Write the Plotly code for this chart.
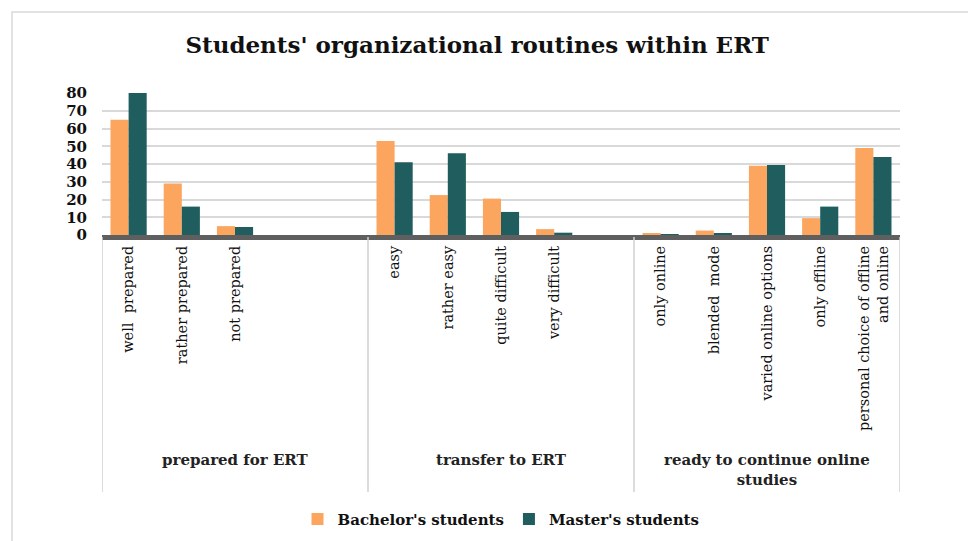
import plotly.graph_objects as go

categories = ["well  prepared", "rather prepared", "not prepared", " ", "  ",
              "easy", "rather easy", "quite difficult", "very difficult", "   ",
              "only online", "blended  mode", "varied online options", "only offline",
              "personal choice of offline<br>and online"]
groups = ["prepared for ERT", "transfer to ERT", "ready to continue online<br>studies"]
group_centers = [2, 7, 12]
group_bounds = [-0.5, 4.5, 9.5, 14.5]

bachelor = [65, 29, 5, None, None, 53, 22.5, 20.5, 3.3, None, 1, 2.5, 39, 9.5, 49]
master = [80, 16, 4.5, None, None, 41, 46, 13, 1.3, None, 0.5, 1, 39.5, 16, 44]
yticks = [0, 10, 20, 30, 40, 50, 60, 70, 80]

FONT = "DejaVu Serif"
C_B = "#FBA55F"
C_M = "#1F5D5F"

fig = go.Figure()
fig.add_trace(go.Bar(x=categories, y=bachelor, name="<b>Bachelor's students</b>",
                     marker=dict(color=C_B, line=dict(width=0))))
fig.add_trace(go.Bar(x=categories, y=master, name="<b>Master's students</b>",
                     marker=dict(color=C_M, line=dict(width=0))))

# plot geometry in pixels (for helper shapes)
L, R, T, B = 102, 68, 93, 306
H = 541 - T - B

def py(pix):
    return (541 - B - pix) / H

shapes = []
for xb in group_bounds:
    shapes.append(dict(type="line", xref="x", yref="paper", x0=xb, x1=xb,
                       y0=py(237), y1=py(492), line=dict(color="#d0d0d0", width=1.5)))
# outer chart border
shapes.append(dict(type="rect", xref="paper", yref="paper",
                   x0=(12 - L) / (968 - L - R), x1=(975 - L) / (968 - L - R),
                   y0=py(12), y1=py(548), line=dict(color="#d9d9d9", width=1.5),
                   layer="below"))

annotations = []
for g, c in zip(groups, group_centers):
    annotations.append(dict(x=c, y=py(470 if "<br>" in g else 460), xref="x", yref="paper",
                            text="<b>" + g + "</b>", showarrow=False,
                            font=dict(family=FONT, size=15, color="#222"),
                            yanchor="middle", xanchor="center"))

fig.update_layout(
    width=968, height=541,
    margin=dict(l=L, r=R, t=T, b=B),
    paper_bgcolor="white", plot_bgcolor="white",
    barmode="group", bargap=0.32, bargroupgap=0.0,
    title=dict(text="<b>Students' organizational routines within ERT</b>",
               x=0.493, xref="container", y=1 - 45 / 541, yref="container",
               xanchor="center", yanchor="middle",
               font=dict(family=FONT, size=23, color="#111")),
    xaxis=dict(type="category", categoryorder="array", categoryarray=categories,
               tickangle=-90, tickfont=dict(family=FONT, size=14.5, color="#111"),
               showgrid=False, showline=True, linecolor="#5f5f5f", linewidth=5,
               ticks="", range=[-0.5, 14.5]),
    yaxis=dict(range=[0, 80], tickvals=yticks, ticktext=["<b>%d</b>" % v for v in yticks],
               tickfont=dict(family=FONT, size=15, color="#111"),
               showgrid=True, gridcolor="#d9d9d9", gridwidth=1.5, zeroline=False,
               ticks="", showline=False, ticklabelstandoff=14),
    legend=dict(orientation="h", x=0.5, xref="paper", xanchor="center",
                y=0.04, yref="container", yanchor="middle",
                font=dict(family=FONT, size=15, color="#111"),
                itemsizing="constant", traceorder="normal", itemwidth=30),
    shapes=shapes, annotations=annotations,
    showlegend=True,
)

fig.write_html("out.html")
